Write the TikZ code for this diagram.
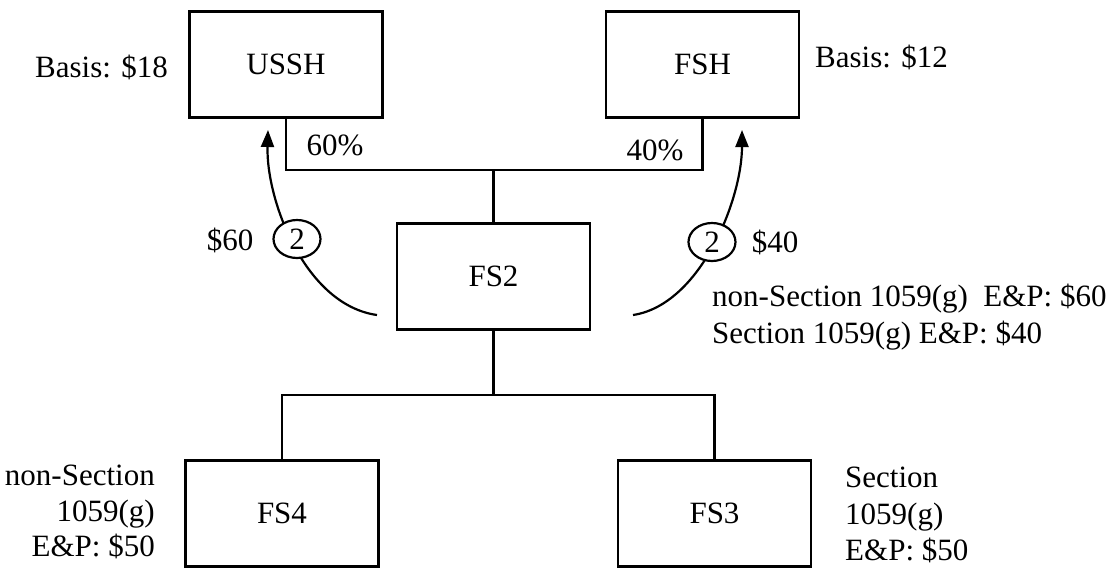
\documentclass[tikz,border=0pt]{standalone}
\usepackage{fontspec}
\setmainfont{Liberation Serif}
\usetikzlibrary{arrows.meta,shapes.geometric}
\begin{document}
\begin{tikzpicture}[x=1pt,y=-1pt,
  txt/.style={font=\fontsize{31}{36}\selectfont, inner sep=0pt},
  entity/.style={draw, line width=2.4pt, minimum width=193pt, minimum height=106pt, txt},
  conn/.style={line width=2.4pt},
  arr/.style={line width=2.2pt, -{Triangle[length=17pt,width=13pt]}},
  tag/.style={draw, ellipse, line width=2.2pt, fill=white, minimum width=47pt, minimum height=38pt, inner sep=0pt, txt}]
\useasboundingbox (0,0) rectangle (1114,570);
\node[entity] (USSH) at (286,64.5) {USSH};
\node[entity] (FSH) at (702.5,64.5) {FSH};
\node[entity] (FS2) at (493.5,276.5) {FS2};
\node[entity] (FS4) at (282,513.5) {FS4};
\node[entity] (FS3) at (714.5,513.5) {FS3};
\coordinate (topbar) at (493.5,170);
\coordinate (botbar) at (493.5,395);
\draw[conn] (USSH.south) |- (topbar) -| (FSH.south);
\draw[conn] (topbar) -- (FS2.north);
\draw[conn] (FS2.south) -- (botbar);
\draw[conn] (FS4.north) |- (botbar) -| (FS3.north);
% arrows
\coordinate (ls) at (377,315);
\coordinate (lt) at (268,130);
\coordinate (rs) at (633,315);
\coordinate (rt) at (742,130);
\draw[arr] (ls) .. controls (305,305) and (266,200) .. (lt);
\draw[arr] (rs) .. controls (700,305) and (742,200) .. (rt);
\node[tag] (c1) at (297,239) {2};
\node[tag] (c2) at (712,242) {2};
% labels
\node[txt, anchor=base east] (b18) at (168,77) {Basis: \$18};
\node[txt, anchor=base west] (b12) at (815,67) {Basis: \$12};
\node[txt] (p60) at (335,145) {60\%};
\node[txt] (p40) at (655,150) {40\%};
\node[txt] (d60) at (230,240) {\$60};
\node[txt] (d40) at (775,242) {\$40};
\node[txt, anchor=base west] (r1) at (712,306) {non-Section 1059(g)\ \ E\&P: \$60};
\node[txt, anchor=base west] (r2) at (712,343) {Section 1059(g) E\&P: \$40};
\node[txt, anchor=base east] (l1) at (155,485) {non-Section};
\node[txt, anchor=base east] (l2) at (155,521) {1059(g)};
\node[txt, anchor=base east] (l3) at (155,556) {E\&P: \$50};
\node[txt, anchor=base west] (s1) at (845,487) {Section};
\node[txt, anchor=base west] (s2) at (845,524) {1059(g)};
\node[txt, anchor=base west] (s3) at (845,560) {E\&P: \$50};
\end{tikzpicture}
\end{document}
